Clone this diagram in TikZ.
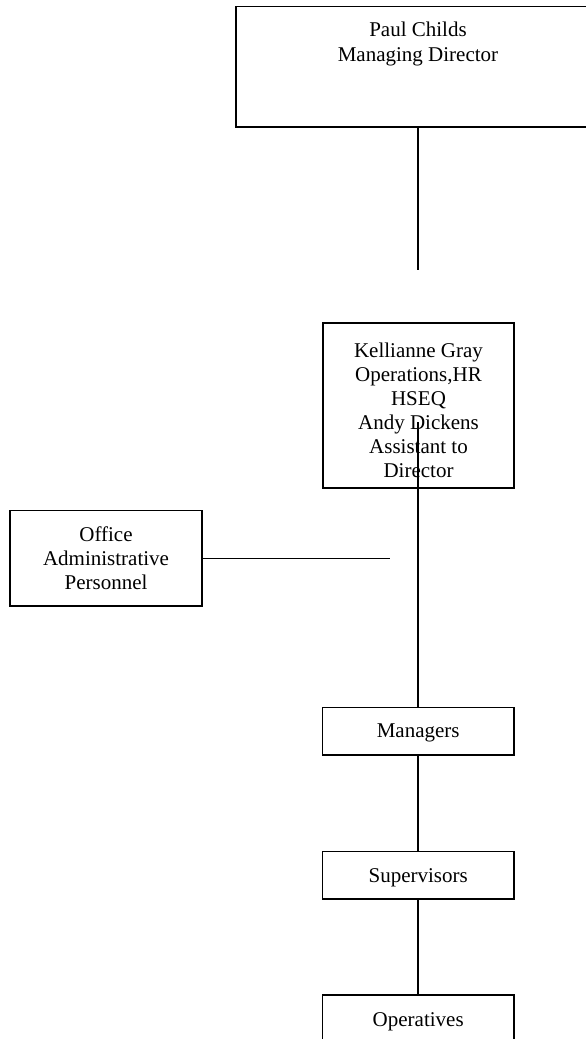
\documentclass[tikz,border=0pt]{standalone}
\usepackage{fontspec}
\setmainfont{Liberation Serif}
\begin{document}
\begin{tikzpicture}[x=1pt,y=-1pt,
  box/.style={draw=black, line width=1.5pt, inner sep=0pt, fill=none},
  lbl/.style={anchor=north, inner sep=0pt, align=center,
    font=\fontsize{21}{24}\selectfont},
  conn/.style={draw=black, line width=1.5pt}]
\useasboundingbox (0,0) rectangle (586,1039);
\clip (0,0) rectangle (586,1039);
\fill[white] (0,0) rectangle (586,1039);
\newcommand{\fl}{\rule{0pt}{15pt}}
% boxes
\node[box, minimum width=364pt, minimum height=120.5pt,
  label={[lbl, font=\fontsize{21}{25}\selectfont, yshift=-15.2pt]north:{\fl Paul Childs\\Managing Director}}] (paul) at (418,66.75) {};
\node[box, minimum width=191pt, minimum height=165pt,
  label={[lbl, yshift=-20pt]north:{\fl Kellianne Gray\\Operations,HR\\HSEQ\\Andy Dickens\\Assistant to\\Director}}] (kg) at (418.5,405.5) {};
\node[box, minimum width=192pt, minimum height=95.3pt,
  label={[lbl, yshift=-16pt]north:{\fl Office\\Administrative\\Personnel}}] (office) at (106,558.3) {};
\node[box, minimum width=191.7pt, minimum height=47.7pt,
  label={[lbl, yshift=-15.7pt]north:{\fl Managers}}] (managers) at (418.2,731.2) {};
\node[box, minimum width=191.7pt, minimum height=47.3pt,
  label={[lbl, yshift=-16pt]north:{\fl Supervisors}}] (supervisors) at (418.2,875.3) {};
\node[box, minimum width=191.7pt, minimum height=48pt,
  label={[lbl, yshift=-16.7pt]north:{\fl Operatives}}] (operatives) at (418.2,1019) {};
% free ends
\coordinate (paulend) at (418,270);
\coordinate (kgstart) at (418,422);
\coordinate (officeend) at (390,558.3);
% connectors
\draw[conn] (paul.south) -- (paul.south |- paulend);
\draw[conn] (kgstart) -- (kgstart |- managers.north);
\draw[conn] (office.east) -- (officeend);
\draw[conn] (managers.south) -- (supervisors.north);
\draw[conn] (supervisors.south) -- (operatives.north);
\end{tikzpicture}
\end{document}
